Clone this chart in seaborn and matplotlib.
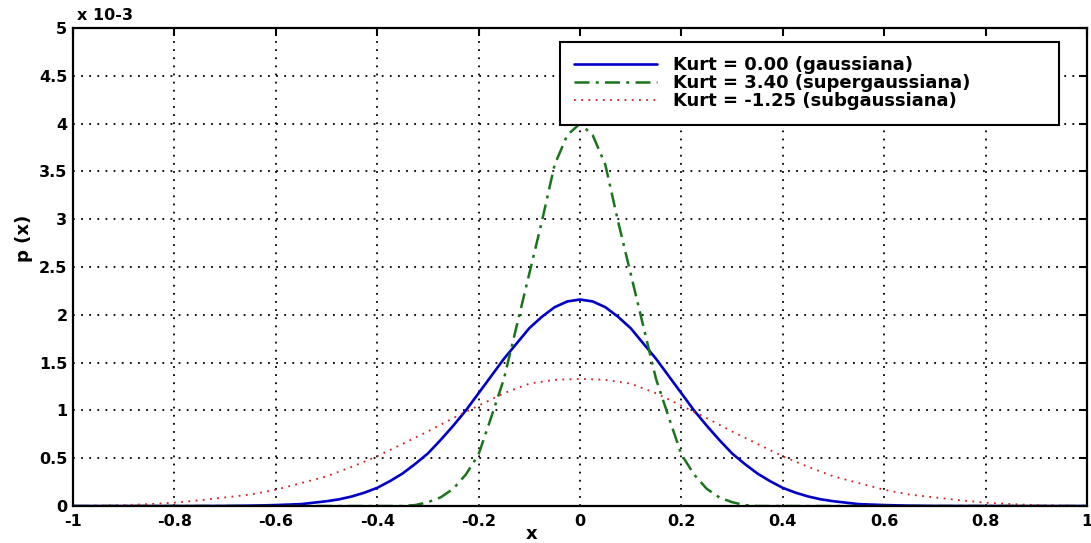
import numpy as np
import matplotlib
matplotlib.use("Agg")
import matplotlib.pyplot as plt
import seaborn as sns

# values (p(x) in units of 1e-3)
x_gauss = [-1.0, -0.9, -0.8, -0.7, -0.65, -0.6, -0.55, -0.5, -0.475, -0.45,
           -0.425, -0.4, -0.375, -0.35, -0.325, -0.3, -0.275, -0.25, -0.225,
           -0.2, -0.175, -0.15, -0.125, -0.1, -0.075, -0.05, -0.025, 0.0,
           0.025, 0.05, 0.075, 0.1, 0.125, 0.15, 0.175, 0.2, 0.225, 0.25,
           0.275, 0.3, 0.325, 0.35, 0.375, 0.4, 0.425, 0.45, 0.475, 0.5,
           0.55, 0.6, 0.65, 0.7, 0.8, 0.9, 1.0]
p_gauss = [0, 0, 0, 0.001, 0.004, 0.01, 0.02, 0.05, 0.07, 0.10,
           0.14, 0.19, 0.26, 0.34, 0.44, 0.55, 0.69, 0.84, 1.00,
           1.18, 1.36, 1.54, 1.70, 1.86, 1.98, 2.08, 2.14, 2.16,
           2.14, 2.08, 1.98, 1.86, 1.70, 1.54, 1.36, 1.18, 1.00, 0.84,
           0.69, 0.55, 0.44, 0.34, 0.26, 0.19, 0.14, 0.10, 0.07, 0.05,
           0.02, 0.01, 0.004, 0.001, 0, 0, 0]

x_super = [-1.0, -0.5, -0.35, -0.325, -0.3, -0.275, -0.25, -0.225, -0.2,
           -0.175, -0.15, -0.125, -0.1, -0.075, -0.05, -0.025, 0.0,
           0.025, 0.05, 0.075, 0.1, 0.125, 0.15, 0.175, 0.2,
           0.225, 0.25, 0.275, 0.3, 0.325, 0.35, 0.5, 1.0]
p_super = [0, 0, 0, 0.01, 0.04, 0.09, 0.18, 0.33, 0.54,
           0.93, 1.33, 1.88, 2.43, 2.98, 3.57, 3.88, 4.0,
           3.88, 3.57, 2.98, 2.43, 1.88, 1.33, 0.93, 0.54,
           0.33, 0.18, 0.09, 0.04, 0.01, 0, 0, 0]

x_sub = [-1.0, -0.95, -0.9, -0.85, -0.8, -0.75, -0.7, -0.65, -0.6, -0.55,
         -0.5, -0.45, -0.4, -0.35, -0.3, -0.25, -0.2, -0.15, -0.1, -0.05, 0.0,
         0.05, 0.1, 0.15, 0.2, 0.25, 0.3, 0.35, 0.4, 0.45, 0.5,
         0.55, 0.6, 0.65, 0.7, 0.75, 0.8, 0.85, 0.9, 0.95, 1.0]
p_sub = [0.0, 0.005, 0.01, 0.02, 0.035, 0.06, 0.09, 0.12, 0.17, 0.24,
         0.31, 0.41, 0.52, 0.65, 0.78, 0.92, 1.05, 1.18, 1.28, 1.32, 1.33,
         1.32, 1.28, 1.18, 1.05, 0.92, 0.78, 0.65, 0.52, 0.41, 0.31,
         0.24, 0.17, 0.12, 0.09, 0.06, 0.035, 0.02, 0.01, 0.005, 0.0]

labels = ["Kurt = 0.00 (gaussiana)",
          "Kurt = 3.40 (supergaussiana)",
          "Kurt = -1.25 (subgaussiana)"]
xticks = [-1, -0.8, -0.6, -0.4, -0.2, 0, 0.2, 0.4, 0.6, 0.8, 1]
yticks = [0, 0.5, 1, 1.5, 2, 2.5, 3, 3.5, 4, 4.5, 5]

sns.set_style("white")
plt.rcParams['font.family'] = ['DejaVu Sans']
plt.rcParams['font.weight'] = 'bold'
plt.rcParams['text.color'] = 'black'
plt.rcParams['axes.labelcolor'] = 'black'

fig = plt.figure(figsize=(10.91, 5.43), dpi=100)
ax = fig.add_axes([0.0669, 0.0681, 0.9294, 0.8803])

sns.lineplot(x=x_gauss, y=p_gauss, ax=ax, color='#0000c8', lw=1.9, label=labels[0])
sns.lineplot(x=x_super, y=p_super, ax=ax, color='#1a741a', lw=1.8,
             linestyle=(0, (6, 2.5, 1.2, 2.5)), label=labels[1])
sns.lineplot(x=x_sub, y=p_sub, ax=ax, color='#d02020', lw=1.3,
             linestyle=(0, (1, 3)), label=labels[2])

ax.set_xlim(-1, 1)
ax.set_ylim(0, 5)
ax.set_xticks(xticks)
ax.set_yticks(yticks)
ax.set_xticklabels([f"{t:g}" for t in xticks], fontsize=11.5, fontweight='bold')
ax.set_yticklabels([f"{t:g}" for t in yticks], fontsize=11.5, fontweight='bold')
ax.tick_params(direction='in', top=True, right=True, length=6, width=1.5,
               colors='black')
ax.tick_params(axis='x', pad=6)
ax.tick_params(axis='y', pad=4)
ax.grid(True, color='black', linestyle=(0, (1, 3.5)), linewidth=1.3)
for s in ax.spines.values():
    s.set_color('black')
    s.set_linewidth(1.6)

ax.set_xlabel("x", fontsize=13, fontweight='bold')
ax.xaxis.set_label_coords(0.452, -0.04)
ax.set_ylabel("p (x)", fontsize=13, fontweight='bold')
ax.yaxis.set_label_coords(-0.039, 0.559)
ax.text(0.004, 1.027, "x 10-3", transform=ax.transAxes, fontsize=11.5,
        fontweight='bold', ha='left', va='center')

leg = ax.legend(loc='upper left', bbox_to_anchor=(0.480, 0.801, 0.492, 0.170),
                mode='expand', borderaxespad=0, fontsize=13, handlelength=4.6,
                handletextpad=0.85, labelspacing=0.0, borderpad=0.8,
                fancybox=False, framealpha=1, edgecolor='black')
leg.get_frame().set_linewidth(1.5)
for t in leg.get_texts():
    t.set_fontweight('bold')
    t.set_color('black')

fig.savefig("out.png", dpi=100)
